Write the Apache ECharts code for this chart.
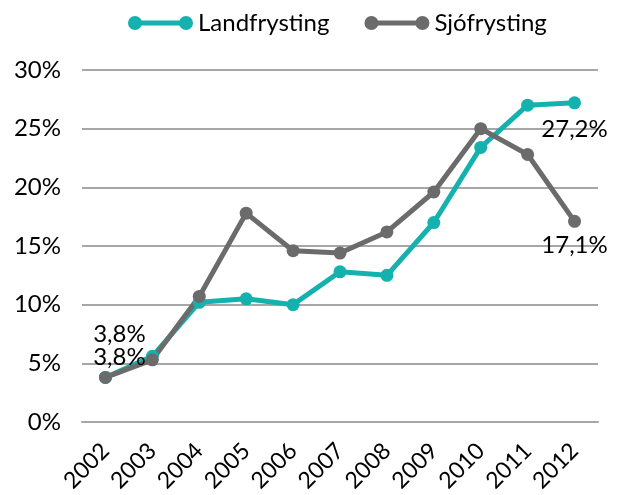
<!DOCTYPE html>
<html><head><meta charset="utf-8">
<script src="https://cdn.jsdelivr.net/npm/echarts@6/dist/echarts.min.js"></script>
<style>html,body{margin:0;padding:0;background:#fff}#c{width:622px;height:495px}</style>
</head><body><div id="c"></div>
<script>
const years = ['2002','2003','2004','2005','2006','2007','2008','2009','2010','2011','2012'];
const landfrysting = [3.8, 5.6, 10.2, 10.5, 10.0, 12.8, 12.5, 17.0, 23.4, 27.0, 27.2];
const sjofrysting = [3.8, 5.3, 10.7, 17.8, 14.6, 14.4, 16.2, 19.6, 25.0, 22.8, 17.1];
const yTicks = [0, 5, 10, 15, 20, 25, 30];

const FONT = 'Lato';
const fmt = v => v.toFixed(1).replace('.', ',') + '%';
const icon = 'path://M0,7 A7,7 0 1,1 14,7 A7,7 0 1,1 0,7 Z M51,7 A7,7 0 1,1 65,7 A7,7 0 1,1 51,7 Z M7,4.5 L58,4.5 L58,9.5 L7,9.5 Z';

function build(arr, firstOffset, lastOffset) {
  return arr.map((v, i) => {
    const d = { value: v };
    if (i === 0) d.label = { show: true, position: 'top', distance: 5, offset: firstOffset };
    if (i === arr.length - 1) d.label = { show: true, position: 'bottom', distance: 5, offset: lastOffset };
    return d;
  });
}

const chart = echarts.init(document.getElementById('c'), null, { renderer: 'canvas' });
chart.setOption({
  animation: false,
  textStyle: { fontFamily: FONT },
  legend: {
    top: 6, left: 123, itemGap: 35, itemWidth: 65, itemHeight: 14,
    textStyle: { fontFamily: FONT, fontSize: 24, color: '#000' },
    data: [{ name: 'Landfrysting', icon: icon }, { name: 'Sjófrysting', icon: icon }]
  },
  grid: { left: 82, right: 24, top: 70, bottom: 73 },
  xAxis: {
    type: 'category', data: years, boundaryGap: true,
    axisLine: { lineStyle: { color: '#a6a6a6', width: 2 } },
    axisTick: { show: false },
    axisLabel: { rotate: 45, margin: 25, fontFamily: FONT, fontSize: 23, color: '#000' }
  },
  yAxis: {
    type: 'value', min: yTicks[0], max: yTicks[yTicks.length - 1], interval: 5,
    axisLine: { show: false }, axisTick: { show: false },
    axisLabel: { formatter: '{value}%', margin: 21, fontFamily: FONT, fontSize: 24, color: '#000' },
    splitLine: { lineStyle: { color: '#a6a6a6', width: 2 } }
  },
  series: [
    {
      name: 'Landfrysting', type: 'line', data: build(landfrysting, [14, -20], [0, 3]),
      color: '#14b1ae', symbol: 'circle', symbolSize: 13,
      lineStyle: { width: 5 },
      label: { show: false, fontFamily: FONT, fontSize: 24, color: '#000', formatter: p => fmt(p.value) }
    },
    {
      name: 'Sjófrysting', type: 'line', data: build(sjofrysting, [14, 3], [0, 0]),
      color: '#6b6b6b', symbol: 'circle', symbolSize: 13,
      lineStyle: { width: 5 },
      label: { show: false, fontFamily: FONT, fontSize: 24, color: '#000', formatter: p => fmt(p.value) }
    }
  ]
});
</script></body></html>
